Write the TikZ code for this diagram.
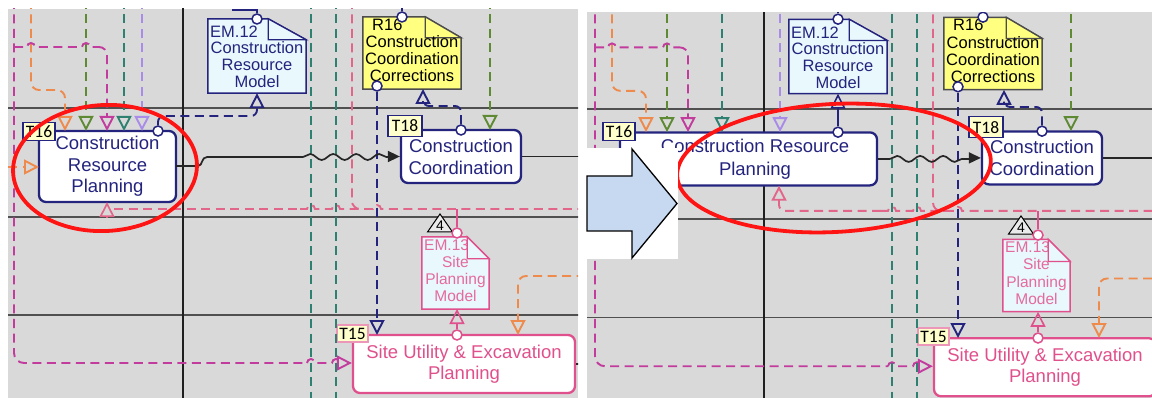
\documentclass[tikz,border=0pt]{standalone}
\usepackage{fontspec}
\setmainfont{Liberation Sans}
\newfontfamily\tagfont{Carlito}
\usetikzlibrary{arrows.meta,calc,decorations.pathmorphing}
\definecolor{bgc}{HTML}{D9D9D9}
\definecolor{nvc}{HTML}{24247E}
\definecolor{lnc}{HTML}{505050}
\definecolor{orc}{HTML}{EE8A4C}
\definecolor{olc}{HTML}{5E8A34}
\definecolor{mgc}{HTML}{C23C9E}
\definecolor{tlc}{HTML}{2E8070}
\definecolor{lvc}{HTML}{A88CE8}
\definecolor{pkc}{HTML}{E2668A}
\definecolor{pkd}{HTML}{E0508C}
\definecolor{tagc}{HTML}{FFFFCC}
\definecolor{yelc}{HTML}{FFFF80}
\definecolor{emc}{HTML}{E8F8FC}
\definecolor{arrc}{HTML}{C6D9F1}
\definecolor{redc}{HTML}{FF1414}
\tikzset{
 dsh/.style={dash pattern=on 9pt off 5.5pt, line width=1.9pt},
 tri/.style={-{Triangle[open,length=15pt,width=15pt]}},
 blk/.style={draw=black!85, line width=1.7pt},
 lanel/.style={draw=lnc, line width=1.3pt},
 sepl/.style={draw=black!88, line width=2.2pt},
 taskbox/.style={draw=nvc, line width=2.3pt, fill=white, rounded corners=7pt, inner sep=0pt, align=center, text=nvc, font=\fontsize{18.5}{21.5}\selectfont},
 tasktext/.style={align=center, text=nvc, inner sep=0pt, font=\fontsize{18.5}{22.5}\selectfont},
 tagbox/.style={draw=nvc, line width=1.3pt, fill=tagc, inner sep=0pt, minimum width=32pt, minimum height=18pt, font=\tagfont\fontsize{17.5}{18}\selectfont},
 circnode/.style={circle, draw=nvc, fill=white, minimum size=10pt, inner sep=0pt, line width=1.5pt},
 docn/.style={inner sep=0pt},
 doctext/.style={align=center, inner sep=0pt, font=\fontsize{16.5}{17}\selectfont},
}
\newcommand\docpath[5]{%
 \draw[draw=#4, line width=1.5pt, fill=#5] (#1.south west) -- (#1.north west) -- ($(#1.north east)+(-#2,0)$) -- ($(#1.north east)+(0,#3)$) -- (#1.south east) -- cycle;}
\newcommand\docfold[5]{%
 \draw[draw=#4, line width=1.3pt, fill=#5] ($(#1.north east)+(-#2,0)$) -- ($(#1.north east)+(-#2,#3)$) -- ($(#1.north east)+(0,#3)$) -- cycle;}
\newcommand\lanes{%
 \foreach \yy in {108,217,315} {\draw[lanel] (0,\yy) -- (600,\yy);}
 \draw[sepl] (183,0) -- (183,400);
}
\newcommand\commonnodes[1]{%
 \node[docn, minimum width=98pt, minimum height=74pt] (#1em12) at (257,56) {};
 \docpath{#1em12}{38}{21}{nvc}{emc}
 \docfold{#1em12}{38}{21}{nvc}{emc}
 \node[doctext, anchor=west, text=nvc] (#1em12id) at (210,32) {EM.12};
 \node[doctext, text=nvc] (#1em12tx) at (257,65) {Construction\\Resource\\Model};
 \node[docn, minimum width=98pt, minimum height=72pt] (#1r16) at (412,53) {};
 \docpath{#1r16}{36}{21}{black!70}{yelc}
 \docfold{#1r16}{36}{21}{black!70}{yelc}
 \node[doctext, anchor=west] (#1r16id) at (372,25) {R16};
 \node[doctext] (#1r16tx) at (412,59) {Construction\\Coordination\\Corrections};
 \node[taskbox, minimum width=120pt, minimum height=53pt, font=\fontsize{18.5}{22}\selectfont] (#1t18) at (461,156.5) {Construction\\Coordination};
 \node[tagbox, minimum width=34pt, minimum height=21pt] (#1t18tag) at (405,126) {T18};
 \node[docn, minimum width=67pt, minimum height=72pt] (#1em13) at (455.5,273) {};
 \docpath{#1em13}{22}{22}{pkd}{emc}
 \node[doctext, anchor=west, text=pkd!85, font=\fontsize{15.5}{17}\selectfont] (#1em13id) at (424,245) {EM.13};
 \node[doctext, text=pkd!85, font=\fontsize{15.5}{17.3}\selectfont] (#1em13tx) at (455.5,279) {Site\\Planning\\Model};
 \docfold{#1em13}{22}{22}{pkd}{emc}
 \draw[black, line width=1pt, fill=black!8] (427.5,232) -- (452.5,232) -- (440,214) -- cycle;
 \node[font=\fontsize{14}{14}\selectfont, inner sep=0pt] (#1four) at (440,226) {4};
 \node[taskbox, draw=pkd, text=pkd, minimum width=222pt, minimum height=58pt, font=\fontsize{18.5}{20.5}\selectfont] (#1t15) at (464,364) {Site Utility \& Excavation\\Planning};
 \node[tagbox, draw=pkd!60, minimum width=31pt, minimum height=17pt] (#1t15tag) at (352.5,333.5) {T15};
 \node[circnode] (#1c12) at (257,19) {};
 \node[circnode] (#1c16t) at (402,17) {};
 \node[circnode] (#1c16b) at (377,86) {};
 \node[circnode] (#1c18) at (461,130) {};
 \node[circnode, draw=pkd] (#1c13) at (457,233) {};
 \node[circnode, draw=pkd] (#1c15) at (457,335) {};
}
\newcommand\commonlinks[1]{%
 \draw[orc,dsh,tri,rounded corners=8pt] (31,0) -- (31,90) -- (65,90) -- (65,131);
 \draw[olc,dsh,tri] (86,0) -- (86,131);
 \draw[mgc,dsh] (14,47) -- (27,47) arc[start angle=180,end angle=360,radius=4] -- (82,47) arc[start angle=180,end angle=360,radius=4] -- (97,47);
 \draw[mgc,dsh,tri,rounded corners=8pt] (97,47) -- (107,47) -- (107,131);
 \draw[mgc,dsh,rounded corners=10pt] (14,0) -- (14,363) -- (307,363);
 \draw[mgc,dsh,tri] (307,363) arc[start angle=180,end angle=360,radius=4] -- (332,363) arc[start angle=180,end angle=360,radius=4] -- (#1t15.west |- 0,363);
 \draw[tlc,dsh] (311,0) -- (311,400);
 \draw[tlc,dsh] (336,0) -- (336,400);
 \draw[pkc,dsh,rounded corners=8pt] (352,0) -- (352,209) -- (364,209);
 \draw[pkc,dsh] (300,209) -- (307,209) arc[start angle=180,end angle=360,radius=4] -- (332,209) arc[start angle=180,end angle=360,radius=4] -- (373,209) arc[start angle=180,end angle=360,radius=4] -- (600,209);
 \draw[nvc,dsh,tri] (#1c16b.south) -- (377,335);
 \draw[nvc,line width=1.5pt] (#1c12.north) -- (257,10) -- (232,10);
 \draw[nvc,line width=1.5pt] (#1c16t.north) -- (402,0);
 \draw[nvc,dsh,tri,rounded corners=6pt] (#1c18.north) -- (461,106) -- (423,106) -- (423,89);
 \draw[olc,dsh,tri] (490,0) -- (490,130);
 \draw[blk] (#1t18.east) -- (600,156.5);
 \draw[pkd,line width=1.6pt] (457,209) -- (#1c13.north);
 \draw[pkd,line width=1.6pt,tri] (#1c15.north) -- (457,309);
 \draw[orc,dsh,tri,rounded corners=8pt] (600,276) -- (518,276) -- (518,335);
 \draw[blk] (#1t15.east) -- (600,364);
}
\begin{document}
\begin{tikzpicture}[x=1pt,y=-1pt]
\useasboundingbox (0,0) rectangle (1152,398);
\fill[white] (0,0) rectangle (1152,398);
% ---------- left panel ----------
\begin{scope}
 \clip (8,9) rectangle (578,398);
 \fill[bgc] (8,9) rectangle (578,398);
 \lanes
 \commonnodes{L}
 \node[taskbox, minimum width=137pt, minimum height=71pt] (Lt16) at (107.5,166.5) {Construction\\Resource\\Planning};
 \node[tagbox] (Lt16tag) at (39,131.5) {T16};
 \node[circnode] (Lc16) at (158,131) {};
 \commonlinks{L}
 \draw[tlc,dsh,tri] (124,0) -- (124,131);
 \draw[lvc,dsh,tri] (142,0) -- (142,131);
 \draw[orc,dsh,tri] (8,167) -- (39,167);
 \draw[nvc,dsh,tri,rounded corners=6pt] (Lc16.north) -- (158,116) -- (257,116) -- (Lem12.south);
 \draw[pkc,line width=1.7pt,tri] (107,217) -- (107,202);
 \draw[pkc,dsh] (114,209) -- (300,209);
 \draw[blk] (176,166) -- (198,166) .. controls (203,166) and (201,157) .. (207,157) -- (303,157);
 \draw[blk,decorate,decoration={snake,amplitude=3pt,segment length=23pt}] (303,157) -- (388,157);
 \draw[blk,-{Triangle[length=12pt,width=11pt]}] (388,156.5) -- (Lt18.west);
\end{scope}
% ---------- right panel ----------
\begin{scope}[shift={(581,0)}, yscale=1.009]
 \clip (6,11.9) rectangle (571,394.5);
 \fill[bgc] (6,11.9) rectangle (571,394.5);
 \lanes
 \commonnodes{R}
 \node[taskbox, minimum width=257pt, minimum height=53pt] (Rt16) at (167.5,157.5) {};
 \node[tasktext] (Rt16txt) at (174,158) {Construction Resource\\Planning};
 \node[tagbox] (Rt16tag) at (38,130.5) {T16};
 \node[circnode] (Rc16) at (257,131) {};
 \commonlinks{R}
 \draw[tlc,dsh,tri] (141,0) -- (141,131);
 \draw[lvc,dsh,tri] (199,0) -- (199,131);
 \draw[nvc,line width=1.6pt,tri] (Rc16.north) -- (Rem12.south);
 \draw[pkc,dsh,tri,rounded corners=6pt] (300,209) -- (198,209) -- (198,184);
 \draw[blk] (Rt16.east) -- (309,157.5);
 \draw[blk,decorate,decoration={snake,amplitude=3pt,segment length=23pt}] (309,157.5) -- (388,157.5);
 \draw[blk,-{Triangle[length=12pt,width=11pt]}] (388,156.5) -- (Rt18.west);
\end{scope}
% ---------- highlights ----------
\draw[redc, line width=3.8pt, rotate around={3:(105,168)}] (105,168) ellipse [x radius=92, y radius=63];
\draw[redc, line width=3.8pt, rotate around={3:(834,168)}] (834,168) ellipse [x radius=157, y radius=64];
% ---------- arrow ----------
\fill[white] (587,148) rectangle (678,259);
\draw[black, line width=1.3pt, fill=arrc] (587,176) -- (632,176) -- (632,149) -- (677,203.5) -- (632,258) -- (632,231) -- (587,231) -- cycle;
\end{tikzpicture}
\end{document}
